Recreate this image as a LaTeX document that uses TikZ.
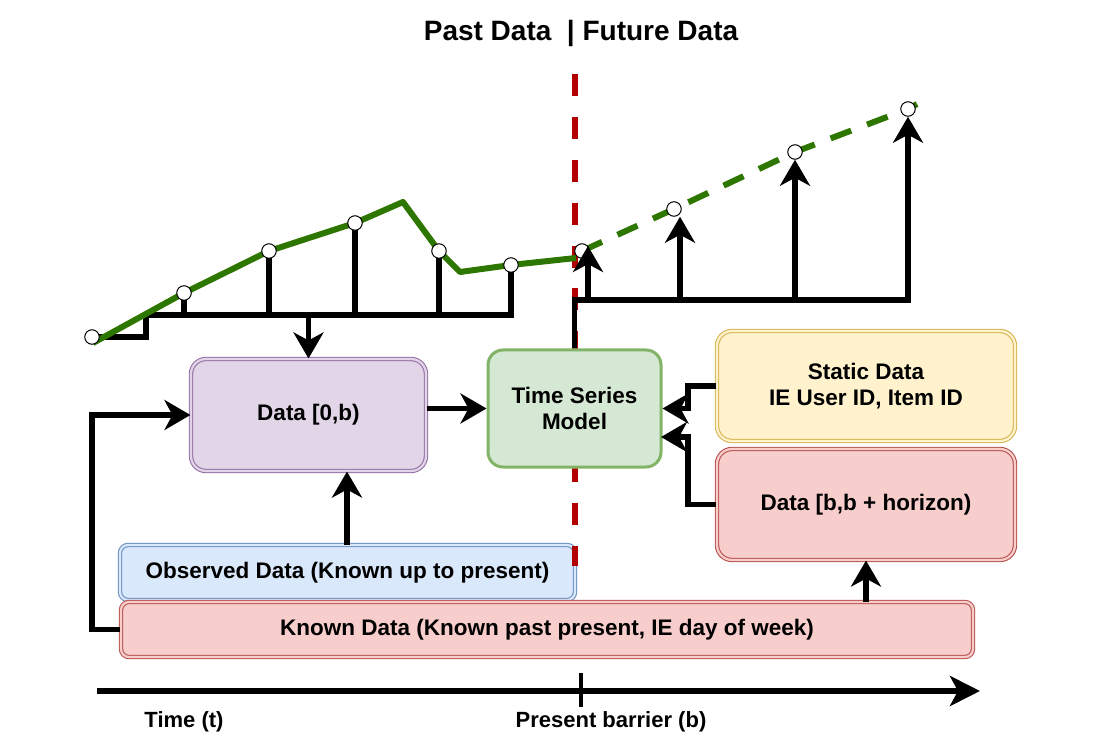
\documentclass[tikz,border=0pt]{standalone}
\usepackage{fontspec}
\setmainfont{Liberation Sans}
\usetikzlibrary{arrows.meta,calc}
\definecolor{purfill}{HTML}{E1D5E7}\definecolor{purline}{HTML}{9673A6}
\definecolor{bluefill}{HTML}{DAE8FC}\definecolor{blueline}{HTML}{6C8EBF}
\definecolor{redfill}{HTML}{F8CECC}\definecolor{redline}{HTML}{B85450}
\definecolor{yelfill}{HTML}{FFF2CC}\definecolor{yelline}{HTML}{D6B656}
\definecolor{grnfill}{HTML}{D5E8D4}\definecolor{grnline}{HTML}{82B366}
\definecolor{barrier}{HTML}{B20000}
\definecolor{series}{HTML}{2D7600}
\begin{document}
\begin{tikzpicture}[x=1pt,y=-1pt,
  boxtxt/.style={font=\bfseries\fontsize{22.5}{26}\selectfont, align=center, inner sep=0pt},
  dblbox/.style={boxtxt, draw=#1line, fill=#1fill, double=#1fill, double distance=2.2pt, line width=1.1pt},
  bigbox/.style={rounded corners=15pt},
  flatbox/.style={rounded corners=8pt},
  conn/.style={draw=black, line width=5.5pt},
  arr/.style={conn, -{Stealth[length=26pt, width=30pt, inset=8pt]}},
  dot/.style={circle, draw=black, fill=white, line width=1pt, minimum size=14.5pt, inner sep=0pt},
  serie/.style={draw=series, line width=6pt, line join=round},
  lbl/.style={font=\bfseries\fontsize{22}{26}\selectfont, inner sep=0pt}
]
\useasboundingbox (0,0) rectangle (1104,751);

% title
\node[font=\bfseries\fontsize{28}{32}\selectfont, inner sep=0pt] (title) at (581,33) {Past Data\ \ | Future Data};

% lower boxes
\node[dblbox=blue, flatbox, minimum width=455pt, minimum height=55pt] (observed) at (347.5,572.5) {Observed Data (Known up to present)};
\node[dblbox=red, flatbox, minimum width=852pt, minimum height=55pt] (known) at (547,629.5) {Known Data (Known past present, IE day of week)};

% present barrier
\coordinate (bartop) at (575,74);
\coordinate (barbot) at (575,566);
\draw[draw=barrier, line width=6pt, dash pattern=on 22pt off 20.9pt] (bartop) -- (barbot);

% main boxes
\node[dblbox=pur, bigbox, minimum width=235pt, minimum height=112pt] (data0) at (308.5,415) {Data [0,b)};
\node[boxtxt, bigbox, draw=grnline, fill=grnfill, line width=3pt, minimum width=173pt, minimum height=117pt] (tsm) at (574.5,408.5) {Time Series\\Model};
\node[dblbox=yel, bigbox, minimum width=298pt, minimum height=110pt] (static) at (866,386) {Static Data\\IE User ID, Item ID};
\node[dblbox=red, bigbox, minimum width=298pt, minimum height=111pt] (horizon) at (866,504.5) {Data [b,b + horizon)};

% series points
\coordinate (g0) at (93,343);
\coordinate (p0) at (92,337);
\coordinate (p1) at (184,293);
\coordinate (p2) at (269,251);
\coordinate (p3) at (355,223);
\coordinate (pk) at (403,202);
\coordinate (p4) at (439,251);
\coordinate (pv) at (460,272);
\coordinate (p5) at (511,265);
\coordinate (pe) at (576,258);
\coordinate (f0) at (582,251);
\coordinate (f1) at (674,209);
\coordinate (f2) at (795,152);
\coordinate (f3) at (908,109);
\coordinate (fe) at (917,104);

% past bracket
\coordinate (bk0) at (146,337);
\coordinate (bk) at (146,315);
\coordinate (bkend) at (511,315);
\draw[conn] (p0) -- (bk0) -- (bk) -- (bkend) -- (p5);
\foreach \p in {p1,p2,p3,p4} \draw[conn] (\p) -- (\p |- bk);
\draw[arr] (data0.north |- bk) -- (data0.north);

% green series
\draw[serie] (g0) -- (p1) -- (p2) -- (p3) -- (pk) -- (p4) -- (pv) -- (p5) -- (pe);
\draw[serie, dash pattern=on 22pt off 17pt] (f0) -- (f1) -- (f2) -- (f3) -- (fe);

% circles
\foreach \p/\n in {p0/P0,p1/P1,p2/P2,p3/P3,p4/P4,p5/P5,f0/F0,f1/F1,f2/F2,f3/F3}
  \node[dot] (\n) at (\p) {};

% future stems
\coordinate (fb) at (574.5,300);
\coordinate (s0) at (588,300);
\coordinate (s1) at (680,300);
\coordinate (s2) at (795,300);
\coordinate (s3) at (908,300);
\coordinate (t0) at (588,246);
\draw[arr] (tsm.north) -- (fb) -- (s3) -- (F3.south);
\draw[arr] (s0) -- (t0);
\draw[arr] (s1) -- (s1 |- F1.south);
\draw[arr] (s2) -- (F2.south);

% connectors to model
\draw[arr] (data0.east |- tsm.west) -- (tsm.west);
\coordinate (sk) at (688,386);
\draw[arr] (static.west) -- (sk) |- (tsm.east);
\coordinate (hk) at (688,504.5);
\coordinate (tsmr) at (661,437);
\draw[arr] (horizon.west) -- (hk) |- (tsmr);

% inputs
\coordinate (kl) at (92,629.5);
\draw[arr] (known.west) -- (kl) |- (data0.west);
\coordinate (ob) at (347,545);
\draw[arr] (ob) -- (ob |- data0.south);
\coordinate (kh) at (866,602);
\draw[arr] (kh) -- (horizon.south);

% time axis
\coordinate (ax0) at (97,691);
\coordinate (ax1) at (980,691);
\coordinate (tk0) at (581,673);
\coordinate (tk1) at (581,707);
\draw[line width=5.5pt, -{Stealth[length=30pt, width=30pt, inset=8pt]}] (ax0) -- (ax1);
\draw[line width=4.5pt] (tk0) -- (tk1);
\node[lbl] (tlabel) at (184,722) {Time (t)};
\node[lbl] (blabel) at (611,722) {Present barrier (b)};
\end{tikzpicture}
\end{document}
